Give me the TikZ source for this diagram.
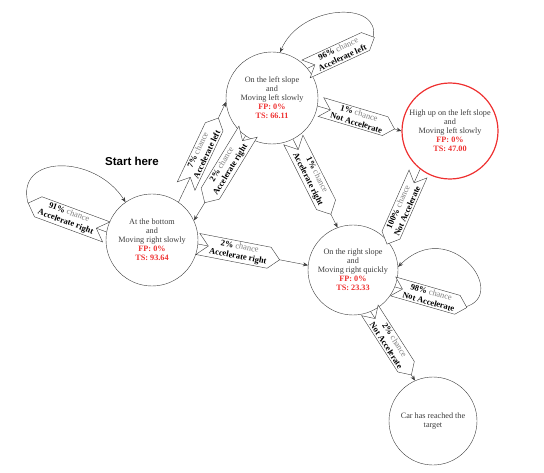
\documentclass[tikz,border=0pt]{standalone}
\usepackage{fontspec}
\setmainfont{Liberation Serif}
\newfontfamily\headfont{Liberation Sans}
\usetikzlibrary{shapes.symbols,arrows.meta}
\definecolor{fpred}{RGB}{238,48,48}
\definecolor{ink}{RGB}{60,60,60}
\newcommand{\chancetext}[2]{\textbf{#1} \textcolor{gray}{chance}\\\textbf{#2}}
\newcommand{\scores}[2]{\textcolor{fpred}{\textbf{FP: #1}}\\\textcolor{fpred}{\textbf{TS: #2}}}
\tikzset{
  state/.style={circle, draw=ink, minimum size=92pt, inner sep=0pt, align=center,
    text=ink, font=\fontsize{8.2}{9}\selectfont},
  tag/.style={signal, draw=ink, fill=white, signal from=west, signal to=east,
    align=center, inner sep=1.8pt, font=\fontsize{8.5}{10}\selectfont, sloped, text=black},
  tagback/.style={tag, signal from=east, signal to=west},
  link/.style={draw=ink, -{Stealth[length=5pt,width=4pt]}},
}

\begin{document}
\begin{tikzpicture}[x=1pt,y=1pt]
		%%%%% START %%%%%
		\useasboundingbox (0,0) rectangle (544,472);
		
		\node[state] (slopeL) at (272,374) {On the left slope\\and\\Moving left slowly\\\scores{0\%}{66.11}};
		\node[state, draw=fpred, line width=1.2pt, minimum size=96pt] (highL) at (450,341) {High up on the left slope\\and\\Moving left slowly\\\scores{0\%}{47.00}};
		\node[state] (bottom) at (152,232) {At the bottom\\and\\Moving right slowly\\\scores{0\%}{93.64}};
		\node[state, minimum size=90pt] (slopeR) at (353,202) {On the right slope\\and\\Moving right quickly\\\scores{0\%}{23.33}};
		\node[state, minimum size=88pt] (target) at (433,51) {Car has reached the\\target};
		
		\node[font=\headfont\fontsize{11.5}{13}\selectfont\bfseries] (start) at (132,311) {Start here};
		
		\draw[link] (bottom.55) -- (slopeL.185) node[tag, pos=0.5] {\chancetext{7\%}{Accelerate left}};
		\draw[link] (slopeL.235) -- (bottom.25) node[tagback, pos=0.37] {\chancetext{2\%}{Accelerate right}};
		\draw[link] (slopeL.-10) -- (highL.180) node[tag, pos=0.48] {\chancetext{1\%}{Not Accelerate}};
		\draw[link] (slopeL.-63) -- (slopeR.110) node[tag, pos=0.43] {\chancetext{1\%}{Accelerate right}};
		\draw[link] (bottom.-5) -- (slopeR.174) node[tag, pos=0.37] {\chancetext{2\%}{Accelerate right}};
		\draw[link] (highL.232) -- (slopeR.39) node[tagback, pos=0.55] {\chancetext{100\%}{Not Accelerate}};
		\draw[link] (slopeR.-67) -- (target.114) node[tag, pos=0.45] {\chancetext{2\%}{Not Accelerate}};
		
		% self loops
		\coordinate (loopA) at (373,434);
		\draw[link] (slopeL.40) -- (loopA) node[tag, midway] {\chancetext{96\%}{Accelerate left}}
			.. controls (382,472) and (300,468) .. (slopeL.80);
		\coordinate (loopC) at (28,269);
		\draw[link] (bottom.170) -- (loopC) node[tagback, midway] {\chancetext{91\%}{Accelerate right}}
			.. controls (15,318) and (95,318) .. (bottom.125);
		\coordinate (loopD) at (465,165);
		\draw[link] (slopeR.-22) -- (loopD) node[tag, midway] {\chancetext{98\%}{Not Accelerate}}
			.. controls (510,177) and (450,257) .. (slopeR.4);
		%%%%% END %%%%%
\end{tikzpicture}
\end{document}
